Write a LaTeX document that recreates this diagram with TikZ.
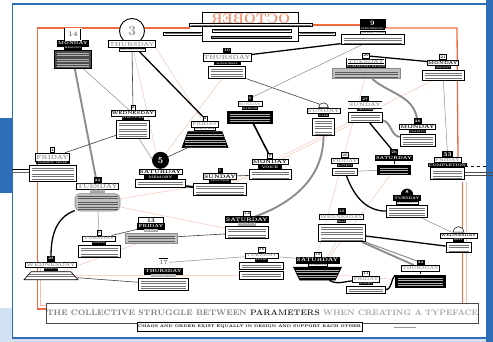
\documentclass[tikz,border=0pt]{standalone}
\usepackage{fontspec}
\usepackage{graphicx}
\usetikzlibrary{positioning,calc,shapes.geometric}
\pgfdeclarelayer{paper}
\pgfdeclarelayer{links}
\pgfsetlayers{paper,links,main}

\definecolor{frameblue}{HTML}{2E6EB9}
\definecolor{paleblue}{HTML}{D3E2F3}
\definecolor{rust}{HTML}{EF6B3F}
\definecolor{salmon}{HTML}{F5C4B3}

\newcommand{\fsz}[1]{\fontsize{#1}{#1}\selectfont\bfseries}

\tikzset{
  numbox/.style={draw, line width=0.5pt, fill=white, inner sep=0.6pt, minimum height=5pt, font=\fsz{3.6}},
  daylab/.style={draw, line width=0.5pt, fill=white, inner sep=0.8pt, minimum height=5.5pt, font=\fsz{4.3}},
  bar/.style={fill=black, text=white, inner sep=0.5pt, minimum height=3pt, font=\fsz{2.3}},
  bodyline/.style={black!55},
  body/.style={draw, line width=0.6pt, fill=white, inner sep=0pt,
    path picture={\foreach \k in {3,5,8.5,10.5,14,16,19.5,21.5,25,27}
      \draw[bodyline, line width=0.45pt] ([xshift=2.5pt,yshift=-\k pt]path picture bounding box.north west)
        -- ([xshift=-2.5pt,yshift=-\k pt]path picture bounding box.north east);}},
  trapbody/.style={trapezium, trapezium angle=#1, trapezium stretches=true, inner sep=1pt},
  % card variants
  blacknum/.style={numbox/.append style={fill=black, text=white}},
  blacklab/.style={daylab/.append style={fill=black, text=white}},
  graylab/.style={daylab/.append style={text=black!42}},
  graybar/.style={bar/.append style={fill=black!35}},
  whitebar/.style={bar/.append style={fill=white, text=black, draw, line width=0.3pt}},
  blackbody/.style={body/.append style={fill=black}, bodyline/.style={white!70!black}},
  graybody/.style={body/.append style={fill=black!25, draw=black!45}, bodyline/.style={black!65}},
  strip/.style={draw, line width=0.4pt, fill=white, inner sep=1.4pt},
  % connectors
  link/.style={line width=0.6pt, black!75},
  heavy/.style={line width=1.3pt, black},
  thickgray/.style={line width=1.9pt, black!45},
  thingray/.style={line width=0.5pt, black!45},
  pale/.style={line width=0.45pt, salmon},
  rustline/.style={line width=1.3pt, rust},
}

% one day: label at #3, number above, theme bar and text body below
\newcommand{\card}[7][]{%
  \begin{scope}[#1]
    \node[daylab] (#2-lab) at (#3) {#5};
    \node[numbox, above=0pt of #2-lab] (#2-num) {#4};
    \node[bar, below=0pt of #2-lab] (#2-bar) {#6};
    \node[body, below=0.5pt of #2-bar, #7] (#2) {};
  \end{scope}}

\begin{document}
\begin{tikzpicture}[x=1pt, y=-1pt]
\useasboundingbox (0,0) rectangle (493,342);

%% sheet and blue frame
\begin{pgfonlayer}{paper}
  \fill[white] (0,0) rectangle (493,342);
  \fill[frameblue] (0,118) rectangle (12,193);
  \fill[paleblue] (0,308) rectangle (12,342);
  \fill[paleblue] (12,339) rectangle (493,342);
  \fill[frameblue] (486,0) rectangle (493,342);
  \draw[frameblue, line width=1.6pt] (12.5,338) -- (12.5,4) -- (486,4);
  \draw[frameblue, line width=2pt] (12,338) -- (493,338);
\end{pgfonlayer}

%% header
\node[draw, line width=1.1pt, fill=white, minimum width=96pt, minimum height=29pt] (octbox) at (250.5,27) {};
\node[text=rust!75, font=\fontsize{14}{14}\selectfont\bfseries] (oct) at (250.5,19) {\reflectbox{OCTOBER}};
\node[strip] (strip1) at (250.5,25) {\textcolor{black!55}{\rule{120pt}{0.6pt}}};
\node[strip] (strip2) at (252,30.5) {\textcolor{black!55}{\rule{76pt}{0.6pt}}};
\node[strip] (stripL) at (183,33.5) {\textcolor{black!55}{\rule{36pt}{0.6pt}}};
\node[strip] (stripR) at (317,33.5) {\textcolor{black!55}{\rule{34pt}{0.6pt}}};
\node[strip, inner sep=0.8pt] (strip3) at (251,37.5) {\textcolor{black!45}{\rule{78pt}{0.4pt}}};

%% days
\card[blacklab, numbox/.append style={double, line width=0.4pt, font=\fsz{7}, text=black!55, minimum width=16pt, minimum height=12pt},
  body/.append style={fill=black!70}, bodyline/.style={black!30}]{c14}{73,43.5}{14}{MONDAY}{HEALING}{minimum width=37pt, minimum height=17.5pt}

\node[circle, draw, line width=0.9pt, fill=white, minimum size=25pt, inner sep=0pt, text=black!40, font=\fsz{14}] (thu3-num) at (132,31) {3};
\node[daylab, text=black!40, minimum width=39pt, minimum height=7pt, font=\fsz{5.8}] (thu3-lab) at (132,44) {THURSDAY};
\node[bar, fill=white, text=black!70, draw, line width=0.3pt, minimum width=26pt, below=0pt of thu3-lab] (thu3-bar) {DESTRUCTION};

\card{wed2}{133,113.5}{2}{WEDNESDAY}{STRUCTURE}{minimum width=33pt, minimum height=17.5pt}
\card[graylab, whitebar, blackbody]{fri4}{205,124.5}{4}{FRIDAY}{LANGUAGE}{trapbody=80, minimum width=46pt, minimum height=16pt}
\card[numbox/.style={circle, fill=black, text=white, minimum size=17pt, inner sep=0pt, font=\fsz{9}},
  daylab/.append style={font=\fsz{5}, minimum width=35pt}, bar/.append style={font=\fsz{3.4}, minimum width=34pt}]{sat5}{160.5,172}{5}{SATURDAY}{MEMORY}{minimum width=50pt, minimum height=8pt}
\card[blacknum, daylab/.append style={font=\fsz{5}}, bar/.append style={minimum width=22pt}]{sun1}{220,176.5}{1}{SUNDAY}{FUNCTION}{minimum width=53pt, minimum height=12pt}
\card[blacknum, graylab, daylab/.append style={font=\fsz{6}, minimum width=44pt, minimum height=8pt}, bar/.append style={minimum width=27pt}]{n10}{227,57.5}{10}{THURSDAY}{WORDINESS}{minimum width=37pt, minimum height=12pt}

\node[numbox, fill=black, text=white, minimum width=25pt, minimum height=8pt, font=\fsz{7}] (wed9-num) at (372.5,23) {9};
\node[bar, minimum width=25pt, below=0pt of wed9-num] (wed9-lab) {WEDNESDAY};
\node[bar, fill=white, text=black, draw, line width=0.3pt, minimum width=20pt, below=0pt of wed9-lab] (wed9-bar) {INSTRUCTION};
\node[body, minimum width=63pt, minimum height=10pt, below=0.5pt of wed9-bar] (wed9) {};

\card[graylab, graybody, daylab/.append style={double, font=\fsz{5}, minimum width=27pt}, bar/.append style={font=\fsz{2.8}, minimum width=35pt}]{tue20}{366,61.5}{29}{TUESDAY}{COMMUNICATION}{minimum width=68pt, minimum height=10pt}
\card{mon8}{443,63}{21}{MONDAY}{INSIGHT}{minimum width=42pt, minimum height=10pt}
\card[blacknum, graylab, blackbody, daylab/.append style={font=\fsz{3.5}}]{n6}{250,104}{6}{SUNDAY}{SILENCE}{minimum width=45pt, minimum height=12pt}
\card[numbox/.append style={font=\fsz{5}}, daylab/.append style={font=\fsz{5}, minimum width=27pt}, bar/.append style={font=\fsz{3.4}, minimum width=24pt}]{mon7}{270,162}{7}{MONDAY}{VOICE}{minimum width=42pt, minimum height=10pt}
\card[numbox/.style={semicircle, draw, line width=0.5pt, fill=white, inner sep=2.2pt}, graylab, daylab/.append style={font=\fsz{5}}]{n13}{323.5,111}{}{SUNDAY}{CARE}{minimum width=22pt, minimum height=17.5pt}
\card[blacknum, graylab, daylab/.append style={double, font=\fsz{5}}]{sun27}{365,105}{27}{SUNDAY}{CHANGE}{minimum width=34pt, minimum height=10pt}
\card[blacknum, daylab/.append style={font=\fsz{5}}]{mon15}{417.5,127}{28}{MONDAY}{CLARITY}{minimum width=35pt, minimum height=12pt}
\card[blacknum, graylab, numbox/.append style={font=\fsz{6}}, bar/.append style={font=\fsz{3.6}, minimum width=37pt}]{n33}{447.5,160}{33}{FRIDAY}{COMPLETION}{minimum width=34pt, minimum height=12pt}
\card[blacknum, blacklab, blackbody]{sat26}{394,158}{26}{SATURDAY}{}{minimum width=33pt, minimum height=9pt}
\card[graylab]{n25}{345,161}{25}{FRIDAY}{SOCIETY}{minimum width=25pt, minimum height=7pt}
\card[numbox/.style={semicircle, fill=black, text=white, inner sep=1.2pt, font=\fsz{4.5}}, blacklab, whitebar, daylab/.append style={font=\fsz{3.5}}]{mort3}{407,198}{8}{TUESDAY}{MORTALITY}{minimum width=41pt, minimum height=12pt}
\card[blacknum, graylab]{c16}{341.5,217}{16}{WEDNESDAY}{ZEAL}{minimum width=47pt, minimum height=17.5pt}
\card[numbox/.style={semicircle, draw, line width=0.5pt, fill=white, inner sep=2.5pt}, daylab/.append style={font=\fsz{3.6}}]{wedR}{458.5,235.5}{}{WEDNESDAY}{REST}{minimum width=25pt, minimum height=10pt}
\card[blacklab, whitebar, blackbody, daylab/.append style={font=\fsz{5}}]{sat17}{317.5,260}{19}{SATURDAY}{VIOLENCE}{trapbody=100, minimum width=48pt, minimum height=13pt}
\card[graylab]{money}{366,279}{11}{FRIDAY}{MONEY}{minimum width=39pt, minimum height=7pt}
\card[blacknum, graylab, blackbody]{n1R}{420.5,268}{24}{THURSDAY}{}{minimum width=50pt, minimum height=12pt}
\card[graylab]{jul15}{261.5,255.5}{15}{TUESDAY}{STORY}{minimum width=44pt, minimum height=7pt}
\node[body, minimum width=44pt, minimum height=8pt, below=1pt of jul15] (jul15-b) {};
\card[blacklab, graybar, daylab/.append style={font=\fsz{5}}]{sat12}{247,219.5}{12}{SATURDAY}{DISTANCE}{minimum width=43pt, minimum height=12pt}
\card[blacklab, graybar, graybody, numbox/.append style={minimum width=25pt, font=\fsz{5.5}}]{fri13}{151,226}{13}{FRIDAY}{DRAFT}{minimum width=52pt, minimum height=10pt}
\card[graylab]{ord6}{99,238.5}{1}{TUESDAY}{ORDER}{minimum width=42pt, minimum height=12pt}
\card[blacknum, graylab, graybar, graybody, daylab/.append style={font=\fsz{6.5}, minimum width=31pt}]{tue12}{97.5,186}{22}{TUESDAY}{FUTURE}{rounded corners=5pt, minimum width=45pt, minimum height=17.5pt}
\card[graylab, daylab/.append style={font=\fsz{6}, minimum width=21pt, minimum height=8pt}, bar/.append style={minimum width=34pt}]{fri4L}{52.5,157}{4}{FRIDAY}{PRESENT TENSE}{minimum width=47pt, minimum height=16pt}
\card[blacknum, graylab, daylab/.append style={font=\fsz{5}}]{wed24}{51,264.5}{23}{WEDNESDAY}{SPEECH}{trapbody=80, minimum width=54pt, minimum height=8pt}
\card[blacklab, graybar, numbox/.append style={double, minimum width=10pt, minimum height=10pt, font=\fsz{6}, text=black!50}]{thu17}{163.5,271}{17}{THURSDAY}{PERSPECTIVE}{minimum width=50pt, minimum height=12pt}

%% title
\node[draw=black!70, line width=1pt, fill=white, minimum width=369pt, minimum height=20pt, inner sep=0pt, font=\fsz{8}, text=black!50] (title) at (262.5,313)
  {THE COLLECTIVE STRUGGLE BETWEEN \textcolor{black!80}{PARAMETERS} \textcolor{black!35}{WHEN CREATING A TYPEFACE}};
\node[draw, line width=0.7pt, fill=white, minimum width=225pt, minimum height=9pt, inner sep=0pt, font=\fsz{3.8}] (subtitle) at (249.5,327)
  {CHAOS AND ORDER EXIST EQUALLY IN DESIGN AND SUPPORT EACH OTHER};
\fill[black!40] (394,326.6) rectangle (416,327.4);

\begin{pgfonlayer}{links}
  %% orange frame
  \draw[rustline] (78,309) -- (37.5,309) -- (37.5,28) -- (190,28);
  \draw[rust!45, line width=0.8pt] (78,305.5) -- (40.5,305.5) -- (40.5,262);
  \draw[rustline] (313,25) -- (372,25);
  \draw[rustline] (372,28) -- (457,28) -- (458,157);
  \draw[rustline] (462.5,182) -- (462.5,309) -- (447,309);
  \draw[rust!45, line width=0.8pt] (466,182) -- (466,312) -- (447,312);

  %% side rails
  \coordinate (leftedge) at (12,169.5);
  \coordinate (leftedge2) at (12,172.5);
  \draw[line width=1.3pt] (leftedge) -- (leftedge -| fri4L.west);
  \draw[line width=0.6pt, black!60] (leftedge2) -- (leftedge2 -| fri4L.west);
  \coordinate (re1) at (493,172);
  \coordinate (re2) at (493,175.5);
  \coordinate (re3) at (486,166);
  \draw[line width=0.9pt, black!70] (re1 -| n33.east) -- (re1);
  \draw[line width=0.9pt, black!70] (re2 -| n33.east) -- (re2);
  \draw[line width=0.9pt, dashed] (re3 -| n33.east) -- (re3);

  %% faint threads
  \draw[pale] (thu3-lab) -- (sat5-lab);
  \draw[pale] (thu3-lab.south east) -- (fri4-lab);
  \draw[pale] (n10) -- (sat5-num);
  \draw[pale] (tue12) -- (mon7);
  \draw[pale] (tue12) -- (sat12);
  \draw[pale] (wed24) -- (jul15-b);
  \draw[pale] (tue20) -- (sat17-num);
  \draw[pale] (sat26) -- (sat17);
  \draw[pale] (mon7-lab) -- (mon8);
  \draw[pale] (sun1) -- (sun27);
  \draw[pale] (c16) -- (sat17);
  \draw[pale] (sat17) -- (n1R);
  \draw[pale] (wed24) -- (fri13);

  %% links
  \draw[thickgray] (c14) -- (tue12-lab);
  \draw[thingray] (c14) -- (wed2-lab);
  \draw[link] (thu3-bar) -- (wed2-num);
  \draw[heavy] (thu3-lab) -- (fri4-num);
  \draw[link] (fri4L-lab) -- (wed2);
  \draw[thingray] (wed2) -- (sat5-lab);
  \draw[link] (fri4) -- (sat5-num);
  \draw[heavy, line width=2pt] (sat5) -- (sun1);
  \draw[link] (sun1-lab) -- (mon7);
  \draw[heavy, line width=1.6pt] (n6) -- (mon7-num);
  \draw[heavy] (n10-lab) -- (wed9);
  \draw[link] (n10) -- (n13-num);
  \draw[thingray] (wed9) -- (n6-num);
  \draw[thickgray] (n13) to[out=-90, in=20] (sat12-lab);
  \draw[heavy] (tue20-num) -- (mon8-lab);
  \draw[thickgray] (tue20) to[out=-40, in=100] (mon15-num);
  \draw[thickgray] (sun27) to[out=-10, in=170] (mon15);
  \draw[heavy] (sun27) -- (sat26-num);
  \draw[thingray] (mon8) -- (n33-num);
  \draw[thingray] (n25) -- (sat26);
  \draw[heavy] (n25) to[out=-70, in=180] (mort3);
  \draw[thingray] (mort3) -- (wedR-lab);
  \draw[heavy] (c16) -- (wedR);
  \draw[thickgray] (c16) -- (n1R-lab);
  \draw[thingray, line width=1pt] (c16.south east) -- (n1R-num);
  \draw[heavy] (sat17) to[out=-30, in=160] (money-bar);
  \draw[heavy] (money.east) to[out=10, in=225] (n1R.north west);
  \draw[thingray] (jul15-lab) -- (sat17-lab);
  \draw[thingray] (thu17-num) -- (jul15-lab);
  \draw[link] (wed24) -- (thu17);
  \draw[heavy] (tue12) to[out=200, in=90] (wed24-num);
  \draw[thingray] (tue12) -- (ord6-num);
  \draw[link] (ord6-lab) -- (fri13-lab);
  \draw[link] (fri13) -- (sat12);
\end{pgfonlayer}
\end{tikzpicture}
\end{document}
